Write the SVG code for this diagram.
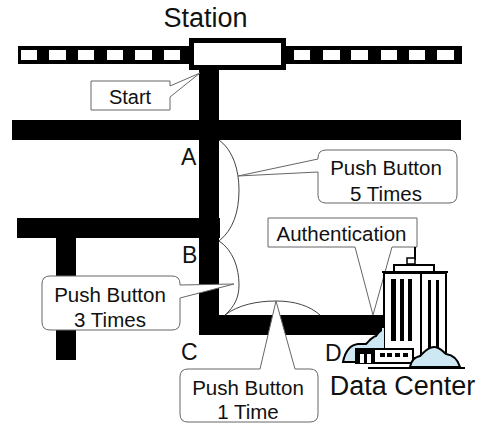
<svg xmlns="http://www.w3.org/2000/svg" width="485" height="427" viewBox="0 0 485 427">
<style>
text{font-family:"Liberation Sans",Arial,sans-serif;fill:#111}
.t20{font-size:20.5px;text-anchor:middle}
.t27{font-size:27px;text-anchor:middle}
.t23{font-size:23px}
.road{fill:#000}
.win{fill:#fff}
.call{fill:#fff;stroke:#666;stroke-width:1}
.arc{fill:none;stroke:#444;stroke-width:1}
.cloud{fill:#cde8f2;stroke:#000;stroke-width:2}
.bld{fill:#fff;stroke:#000;stroke-width:2}
</style>
<rect width="485" height="427" fill="#fff"/>
<g id="roads">
<rect class="road" x="12" y="120" width="449" height="20"/>
<rect class="road" x="17" y="218" width="203" height="20"/>
<rect class="road" x="56" y="238" width="20" height="122"/>
<rect class="road" x="199" y="68" width="20" height="267"/>
<rect class="road" x="199" y="315" width="185" height="20"/>
</g>
<g id="railway">
<rect class="road" x="18" y="46" width="444" height="18"/>
<rect class="win" x="21" y="50" width="16" height="10"/>
<rect class="win" x="49" y="50" width="17" height="10"/>
<rect class="win" x="78" y="50" width="16" height="10"/>
<rect class="win" x="107" y="50" width="16" height="10"/>
<rect class="win" x="135" y="50" width="17" height="10"/>
<rect class="win" x="164" y="50" width="16" height="10"/>
<rect class="win" x="294" y="50" width="16" height="10"/>
<rect class="win" x="323" y="50" width="17" height="10"/>
<rect class="win" x="351" y="50" width="17" height="10"/>
<rect class="win" x="381" y="50" width="16" height="10"/>
<rect class="win" x="409" y="50" width="16" height="10"/>
<rect class="win" x="437" y="50" width="17" height="10"/>
</g>
<g id="station">
<rect x="191.500" y="40.500" width="92" height="27" fill="#fff" stroke="#000" stroke-width="5"/>
<text class="t27" x="205.500" y="27">Station</text>
</g>
<g id="connectors">
<path class="arc" d="M219 140C233 150 239 170 239 190C239 212 233 230 219 241"/>
<path class="arc" d="M219 241C233 250 239 268 239 285C239 298 234 307 225 315"/>
<path class="arc" d="M225 315C238 305 257 301 276 301C295 301 310 306 320 315"/>
</g>
<g id="start">
<path class="call" d="M91 81H170V86L200 73L170 97V110H91Z"/>
<text class="t20" x="130" y="104" style="font-size:20px">Start</text>
</g>
<g id="push5">
<path class="call" d="M326 150H449Q457 150 457 158V195Q457 203 449 203H326Q318 203 318 195V172L238 176L318 159V158Q318 150 326 150Z"/>
<text class="t20" x="386" y="175">Push Button</text>
<text class="t20" x="386" y="201">5 Times</text>
</g>
<g id="push3">
<path class="call" d="M50 276H172Q180 276 180 284V285L234 284L180 298V322Q180 330 172 330H50Q42 330 42 322V284Q42 276 50 276Z"/>
<text class="t20" x="110" y="302">Push Button</text>
<text class="t20" x="110" y="327">3 Times</text>
</g>
<g id="push1">
<path class="call" d="M188 369H260L276 301L295 369H310Q318 369 318 377V414Q318 422 310 422H188Q180 422 180 414V377Q180 369 188 369Z"/>
<text class="t20" x="248" y="395">Push Button</text>
<text class="t20" x="248" y="419">1 Time</text>
</g>
<g id="authentication">
<path class="call" d="M268 218H417V247H392L373 315L355 247H268Z"/>
<text class="t20" x="341.500" y="241">Authentication</text>
</g>
<g id="labels">
<text class="t23" x="181" y="165">A</text>
<text class="t23" x="182" y="263">B</text>
<text class="t23" x="181" y="360">C</text>
<text class="t23" x="325" y="361">D</text>
</g>
<g id="data-center">
<path d="M415 247V260" stroke="#000" stroke-width="2" fill="none"/>
<rect x="407" y="258" width="8" height="6" fill="#fff" stroke="#000" stroke-width="1.500"/>
<rect class="bld" x="394" y="265" width="40" height="8"/>
<rect class="bld" x="421" y="273" width="25" height="85"/>
<rect class="bld" x="384" y="273" width="37" height="85"/>
<path d="M382 272H448" stroke="#000" stroke-width="2"/>
<g fill="#000">
<rect x="391" y="279" width="5" height="62"/>
<rect x="400" y="279" width="4" height="62"/>
<rect x="408" y="279" width="4" height="62"/>
<rect x="428" y="280" width="3" height="70"/>
<rect x="436" y="280" width="3" height="70"/>
</g>
<path class="cloud" d="M343 362C345 352 350 345 358 344C362 344 364 344 366 344C370 340 372 337 376 336C378 333 380 331 383 329V362Z"/>
<rect x="382" y="328" width="2" height="20" fill="#cde8f2"/>
<rect x="356" y="349" width="57" height="14" fill="#fff" stroke="#000" stroke-width="2"/>
<rect x="357" y="350" width="18" height="13" fill="#000"/>
<rect x="360" y="354" width="4" height="9" fill="#fff"/>
<rect x="367" y="354" width="4" height="9" fill="#fff"/>
<g fill="#000">
<rect x="380" y="353" width="5" height="4"/>
<rect x="387" y="353" width="5" height="4"/>
<rect x="395" y="353" width="5" height="4"/>
<rect x="403" y="353" width="5" height="4"/>
</g>
<path class="cloud" d="M410 367C411 361 415 357 420 356C424 352 428 347 434 347C440 347 443 352 446 354C453 355 458 360 460 367Z"/>
<path d="M368 368H465" stroke="#000" stroke-width="2"/>
<text class="t27" x="402.500" y="395">Data Center</text>
</g>
</svg>
